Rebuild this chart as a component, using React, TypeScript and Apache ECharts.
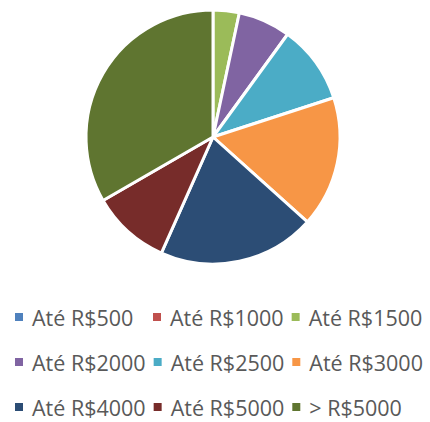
import React, { useEffect, useRef } from "react";
import * as echarts from "echarts";

const categories = [
  "Até R$500",
  "Até R$1000",
  "Até R$1500",
  "Até R$2000",
  "Até R$2500",
  "Até R$3000",
  "Até R$4000",
  "Até R$5000",
  "> R$5000",
];
const values = [0, 0, 1, 2, 3, 5, 6, 3, 10];
const colors = [
  "#4F81BD",
  "#C0504D",
  "#9BBB59",
  "#8064A2",
  "#4BACC6",
  "#F79646",
  "#2C4D75",
  "#772C2A",
  "#5F7530",
];

const legendRows = [categories.slice(0, 3), categories.slice(3, 6), categories.slice(6, 9)];
const legendTops = [304, 349, 394];

export default function App() {
  const ref = useRef<HTMLDivElement>(null);
  useEffect(() => {
    if (!ref.current) return;
    const chart = echarts.init(ref.current, undefined, { renderer: "svg" });
    chart.setOption({
      animation: false,
      color: colors,
      legend: legendRows.map((row, i) => ({
        data: row,
        left: 15,
        top: legendTops[i],
        padding: 0,
        orient: "horizontal",
        itemWidth: 8,
        itemHeight: 8,
        itemGap: 8,
        icon: "rect",
        selectedMode: false,
        itemStyle: { borderWidth: 0 },
        textStyle: {
          fontFamily: "Open Sans",
          fontSize: 21.5,
          color: "#595959",
          lineHeight: 26,
          width: 113,
          padding: [0, 0, 0, 4],
        },
      })),
      series: [
        {
          type: "pie",
          center: [213, 137],
          radius: [0, 127],
          startAngle: 90,
          clockwise: true,
          label: { show: false },
          labelLine: { show: false },
          emphasis: { disabled: true },
          itemStyle: { borderColor: "#ffffff", borderWidth: 3 },
          data: categories.map((name, i) => ({ name, value: values[i] })),
        },
      ],
    });
    return () => chart.dispose();
  }, []);
  return (
    <div
      ref={ref}
      style={{ position: "fixed", left: 0, top: 0, width: 430, height: 422, background: "#fff" }}
    />
  );
}
